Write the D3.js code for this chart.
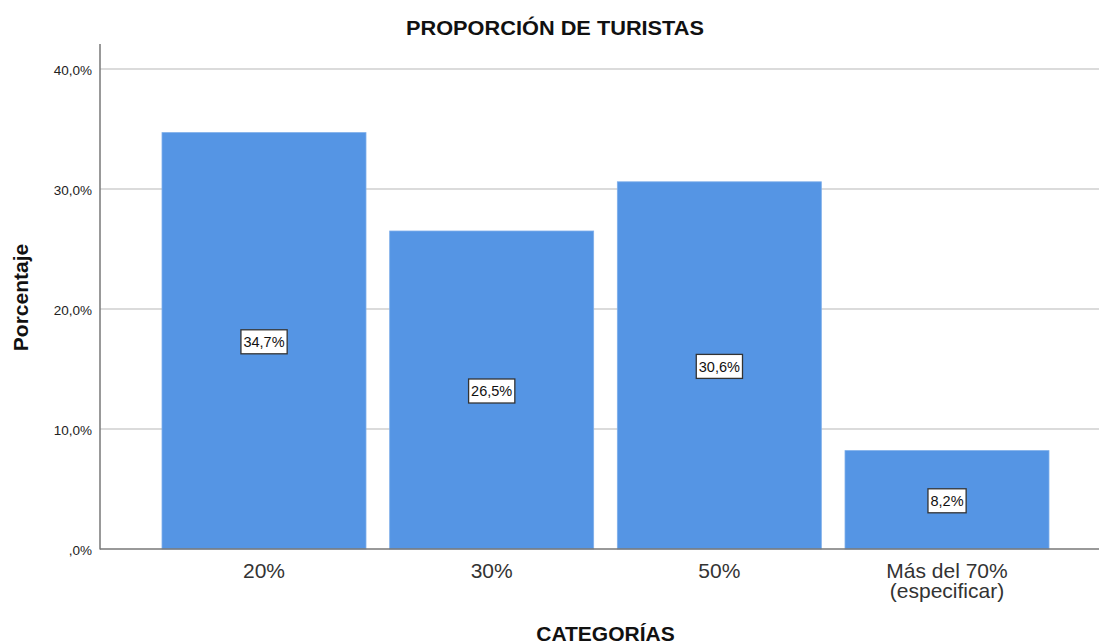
<!DOCTYPE html>
<html><head><meta charset="utf-8">
<script src="https://cdn.jsdelivr.net/npm/d3@7"></script>
<style>body{margin:0;background:#fff}svg{display:block}</style>
</head><body>
<svg id="c" width="1099" height="644"></svg>
<script>
const categories = ["20%", "30%", "50%", "Más del 70%\n(especificar)"];
const values = [34.7, 26.5, 30.6, 8.2];
const valueLabels = ["34,7%", "26,5%", "30,6%", "8,2%"];
const yTicks = [0, 10, 20, 30, 40];
const yTickLabels = [",0%", "10,0%", "20,0%", "30,0%", "40,0%"];
const title = "PROPORCIÓN DE TURISTAS";
const xTitle = "CATEGORÍAS";
const yTitle = "Porcentaje";

(function() {
const svg = d3.select("#c");
const font = "'Liberation Sans', Arial, sans-serif";
const mLeft = 100, mRight = 1099, mTop = 44, mBottom = 549;

const y = d3.scaleLinear().domain([0, 40]).range([mBottom, 69]);
const x = d3.scaleBand().domain(categories).range([162, 1049]).paddingInner(0.104).paddingOuter(0);

// gridlines
svg.append("g").selectAll("line").data(yTicks.filter(d => d > 0)).join("line")
  .attr("x1", mLeft).attr("x2", mRight).attr("y1", d => y(d)).attr("y2", d => y(d))
  .attr("stroke", "#cfcfcf").attr("stroke-width", 1.5);

// bars
svg.append("g").selectAll("rect").data(values).join("rect")
  .attr("x", (d, i) => x(categories[i])).attr("width", x.bandwidth())
  .attr("y", d => y(d)).attr("height", d => mBottom - y(d))
  .attr("fill", "#5595e4").attr("stroke", "#7eaeea").attr("stroke-width", 0.8);

// axes
const yAxis = d3.axisLeft(y).tickValues(yTicks).tickFormat((d, i) => yTickLabels[i]).tickSize(0).tickPadding(8);
const gy = svg.append("g").attr("transform", `translate(${mLeft},0)`).call(yAxis);
gy.select(".domain").remove();
gy.selectAll("text").attr("font-family", font).attr("font-size", 13.5).attr("fill", "#222").attr("dy", "0.4em");
svg.append("line").attr("x1", mLeft).attr("x2", mLeft).attr("y1", mTop).attr("y2", mBottom + 0.5)
  .attr("stroke", "#777").attr("stroke-width", 1.5);
svg.append("line").attr("x1", mLeft).attr("x2", mRight).attr("y1", mBottom).attr("y2", mBottom)
  .attr("stroke", "#777").attr("stroke-width", 1.5);

const xAxis = d3.axisBottom(x).tickSize(0).tickFormat("");
const gx = svg.append("g").attr("transform", `translate(0,${mBottom})`).call(xAxis);
gx.select(".domain").remove();
gx.selectAll(".tick").each(function(d) {
  const lines = d.split("\n");
  const t = d3.select(this).append("text").attr("font-family", font).attr("font-size", 21)
    .attr("fill", "#333").attr("text-anchor", "middle");
  lines.forEach((l, i) => t.append("tspan").attr("x", 0).attr("y", 29 + i * 20).text(l));
});

// value labels
const lab = svg.append("g").selectAll("g").data(values).join("g")
  .attr("transform", (d, i) => `translate(${x(categories[i]) + x.bandwidth() / 2},${(y(d) + mBottom) / 2 + 1})`);
lab.append("text").attr("text-anchor", "middle").attr("dy", "0.36em")
  .attr("font-family", font).attr("font-size", 14.5).attr("fill", "#111")
  .text((d, i) => valueLabels[i]);
lab.each(function() {
  const g = d3.select(this);
  const b = g.select("text").node().getBBox();
  g.insert("rect", "text").attr("x", b.x - 2.5).attr("y", -12).attr("width", b.width + 5).attr("height", 24)
    .attr("fill", "#fff").attr("stroke", "#333").attr("stroke-width", 1.3);
});

// titles
svg.append("text").attr("x", 555).attr("y", 35).attr("text-anchor", "middle")
  .attr("font-family", font).attr("font-weight", "bold").attr("font-size", 21).attr("fill", "#111")
  .attr("textLength", 298).attr("lengthAdjust", "spacingAndGlyphs").text(title);
svg.append("text").attr("x", 605.5).attr("y", 641).attr("text-anchor", "middle")
  .attr("font-family", font).attr("font-weight", "bold").attr("font-size", 21).attr("fill", "#111").text(xTitle);
svg.append("text").attr("transform", "translate(28,297.5) rotate(-90)").attr("text-anchor", "middle")
  .attr("font-family", font).attr("font-weight", "bold").attr("font-size", 21).attr("fill", "#111").text(yTitle);
})();
</script>
</body></html>
